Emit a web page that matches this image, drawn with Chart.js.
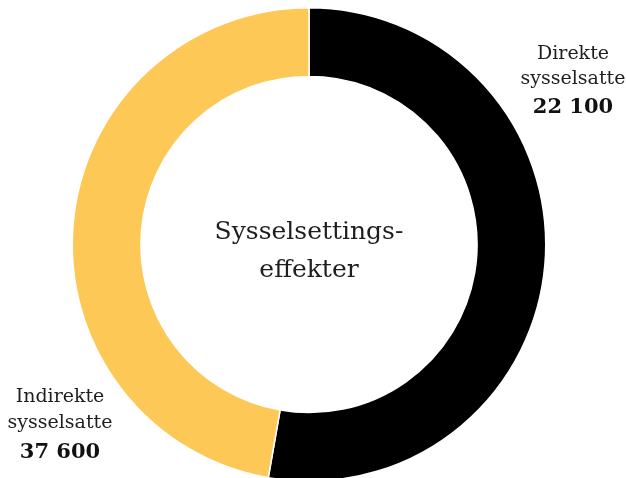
<!DOCTYPE html>
<html>
<head>
<meta charset="utf-8">
<script src="https://cdn.jsdelivr.net/npm/chart.js@4"></script>
<style>
html,body{margin:0;padding:0;background:#fff;overflow:hidden;}
#wrap{width:626px;height:478px;position:relative;overflow:hidden;}
</style>
</head>
<body>
<div id="wrap"><canvas id="c" width="626" height="482"></canvas></div>
<script>
// Categories and slice shares (percent of the ring)
const categories = ["Direkte sysselsatte", "Indirekte sysselsatte"];
const sliceShares = [52.75, 47.25];
const labelLines = [["Direkte", "sysselsatte"], ["Indirekte", "sysselsatte"]];
const labelValues = ["22 100", "37 600"];
const centerLines = ["Sysselsettings-", "effekter"];
const sliceColors = ["#000000", "#FDC856"];

const FONT = "'DejaVu Serif', 'Liberation Serif', serif";

const textPlugin = {
  id: 'texts',
  afterDraw(chart) {
    const ctx = chart.ctx;
    const meta = chart.getDatasetMeta(0);
    const arc = meta.data[0];
    const cx = arc.x, cy = arc.y;
    ctx.save();
    ctx.fillStyle = '#1e1e1e';
    ctx.textAlign = 'center';
    ctx.textBaseline = 'middle';
    ctx.font = "25px " + FONT;
    ctx.fillText(centerLines[0], cx, cy - 12);
    ctx.fillText(centerLines[1], cx, cy + 26);
    // slice labels
    const pos = [[573, 54, 25, 54], [60, 397, 26, 56]];
    labelLines.forEach((lines, i) => {
      const [x, y, d1, d2] = pos[i];
      ctx.font = "19px " + FONT;
      ctx.fillStyle = '#1e1e1e';
      ctx.fillText(lines[0], x, y);
      ctx.fillText(lines[1], x, y + d1);
      ctx.font = "bold 21px " + FONT;
      ctx.fillStyle = '#111';
      ctx.fillText(labelValues[i], x, y + d2);
    });
    ctx.restore();
  }
};

new Chart(document.getElementById('c'), {
  type: 'doughnut',
  data: {
    labels: categories,
    datasets: [{
      data: sliceShares,
      backgroundColor: sliceColors,
      borderColor: '#ffffff',
      borderWidth: 1.5
    }]
  },
  options: {
    responsive: false,
    animation: false,
    cutout: '71%',
    layout: { padding: { top: 7, bottom: 0, left: 0, right: 8 } },
    plugins: {
      legend: { display: false },
      tooltip: { enabled: false }
    }
  },
  plugins: [textPlugin]
});
</script>
</body>
</html>
